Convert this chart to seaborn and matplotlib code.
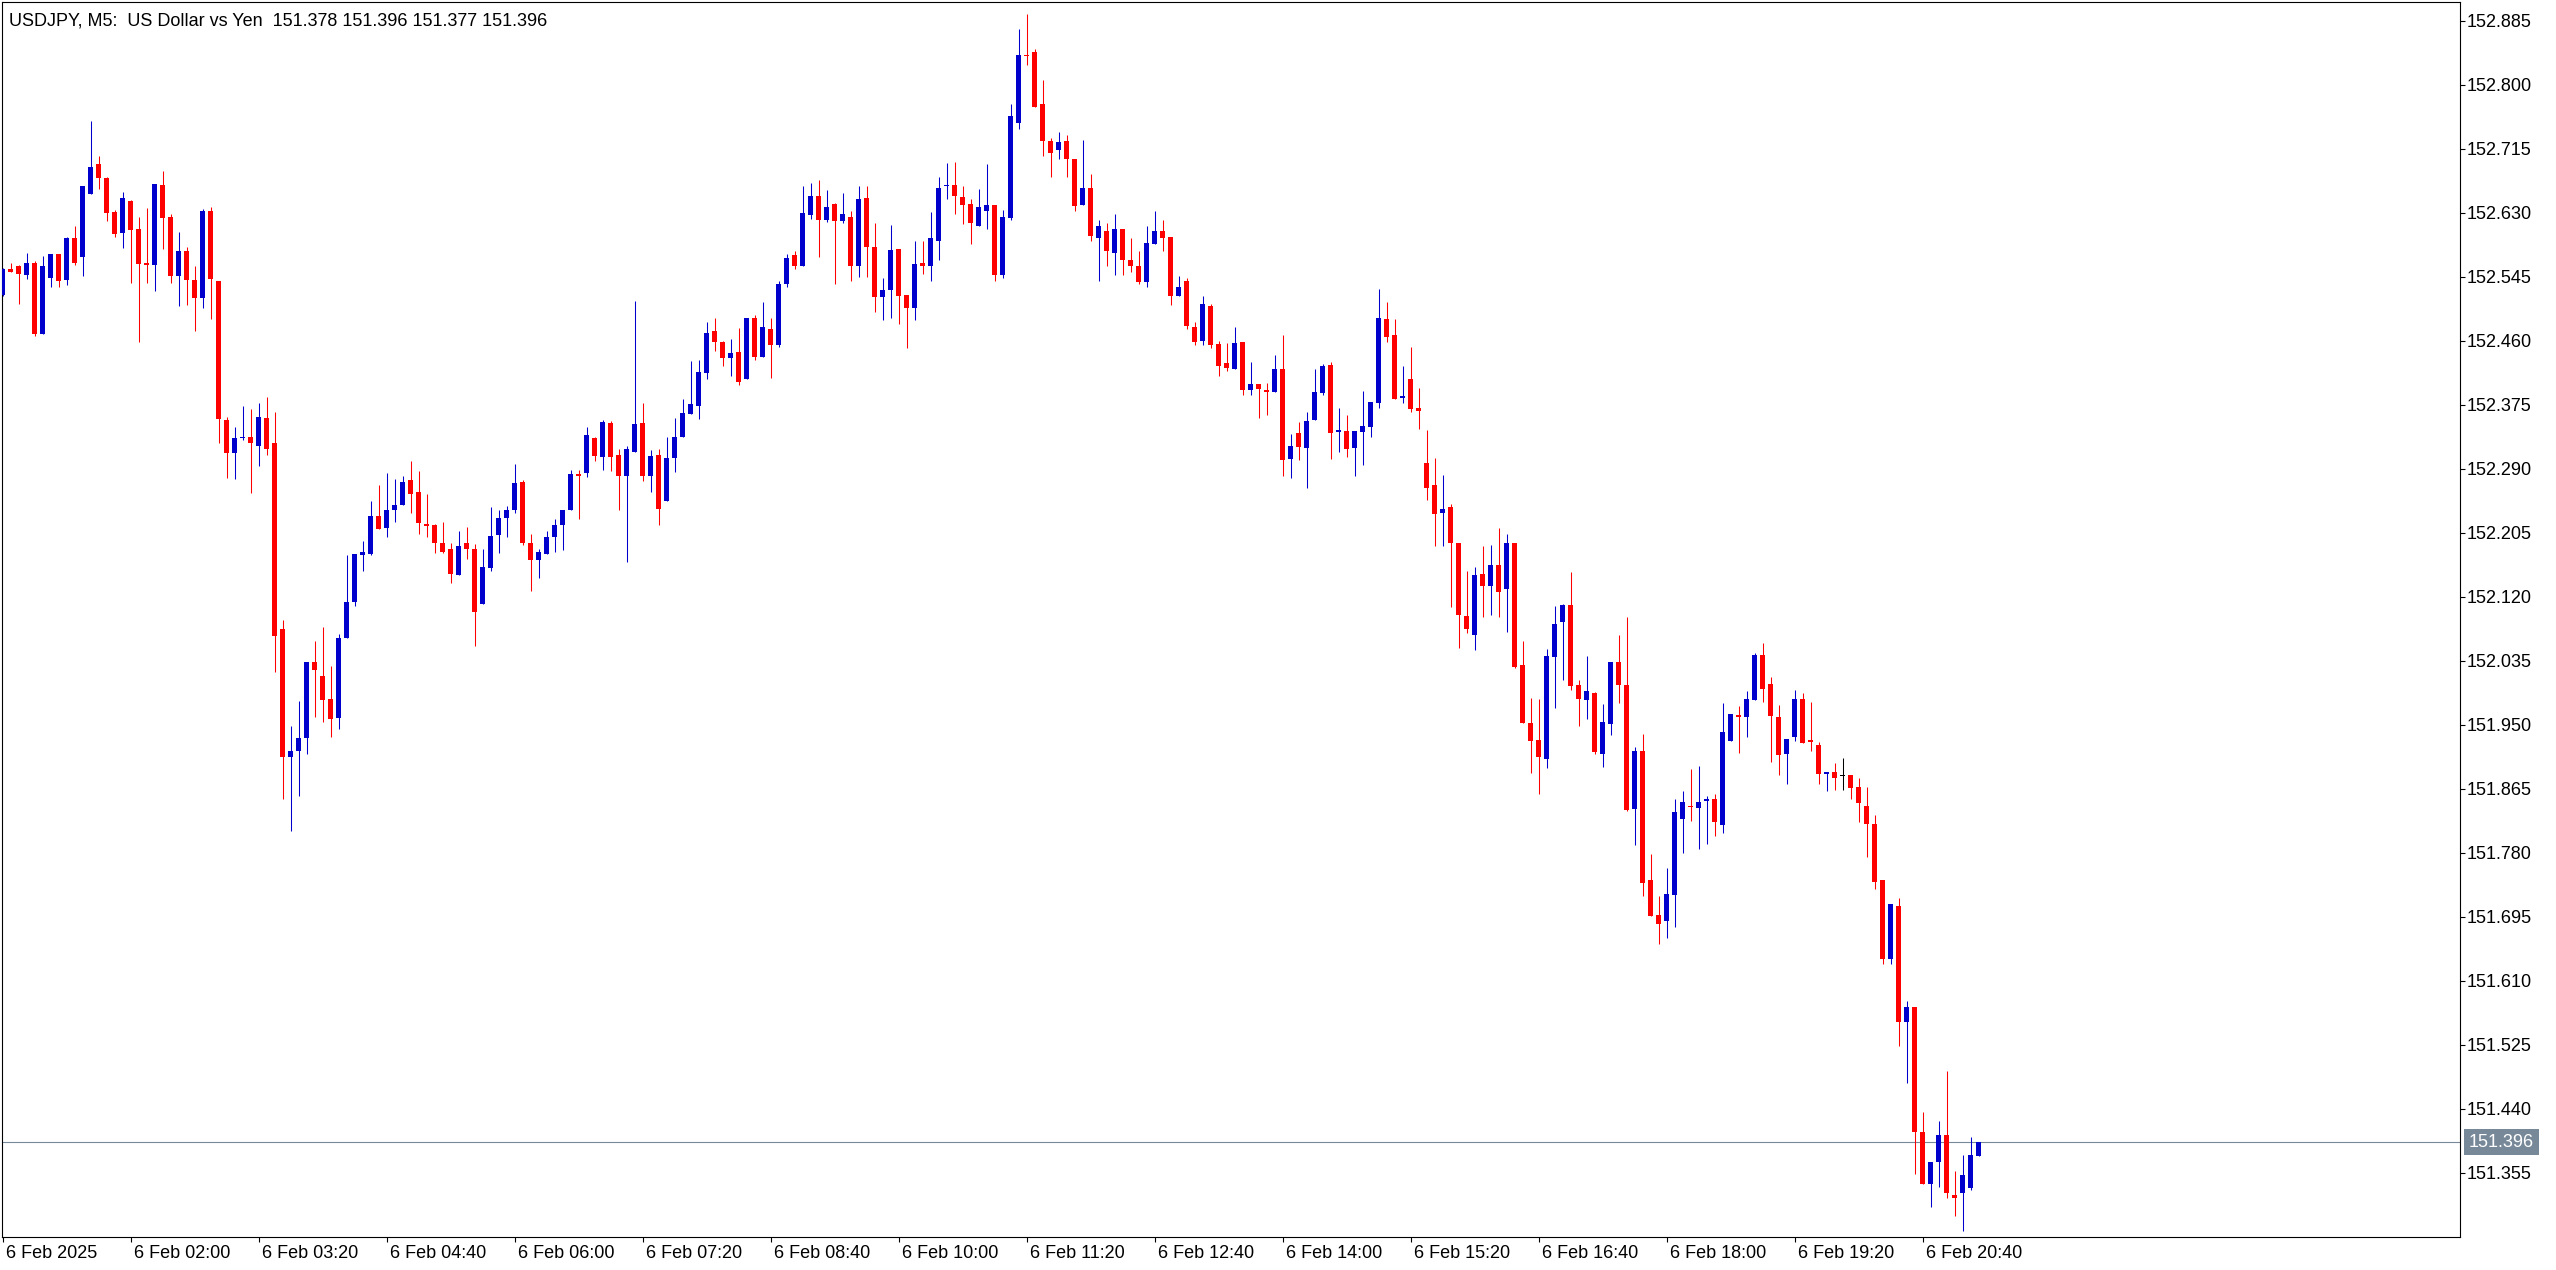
import numpy as np
import pandas as pd
import matplotlib
matplotlib.use('Agg')
import matplotlib.pyplot as plt
import matplotlib.transforms as mtransforms
import seaborn as sns

# USDJPY M5 candles (bar 0 = 00:40)
opens = [152.521, 152.556, 152.560, 152.547, 152.564, 152.469, 152.544, 152.575, 152.541, 152.597,
         152.572, 152.655, 152.695, 152.676, 152.631, 152.603, 152.646, 152.609, 152.564, 152.561,
         152.667, 152.625, 152.546, 152.579, 152.541, 152.517, 152.633, 152.540, 152.355, 152.311,
         152.331, 152.333, 152.321, 152.357, 152.324, 152.077, 151.907, 151.916, 151.933, 152.034,
         152.015, 151.985, 151.959, 152.066, 152.113, 152.175, 152.177, 152.228, 152.212, 152.236,
         152.242, 152.275, 152.259, 152.217, 152.215, 152.192, 152.184, 152.149, 152.191, 152.184,
         152.110, 152.159, 152.202, 152.225, 152.235, 152.272, 152.192, 152.169, 152.177, 152.199,
         152.215, 152.235, 152.283, 152.284, 152.331, 152.306, 152.351, 152.309, 152.280, 152.312,
         152.351, 152.280, 152.309, 152.248, 152.304, 152.333, 152.363, 152.374, 152.418, 152.473,
         152.459, 152.437, 152.445, 152.409, 152.491, 152.438, 152.476, 152.455, 152.536, 152.574,
         152.559, 152.627, 152.653, 152.621, 152.642, 152.619, 152.625, 152.559, 152.650, 152.585,
         152.518, 152.527, 152.582, 152.521, 152.503, 152.564, 152.559, 152.593, 152.665, 152.667,
         152.651, 152.642, 152.612, 152.633, 152.641, 152.547, 152.623, 152.749, 152.840, 152.843,
         152.774, 152.726, 152.713, 152.726, 152.701, 152.640, 152.663, 152.597, 152.606, 152.577,
         152.609, 152.568, 152.560, 152.538, 152.589, 152.606, 152.598, 152.520, 152.540, 152.478,
         152.460, 152.506, 152.456, 152.431, 152.423, 152.458, 152.395, 152.403, 152.395, 152.392,
         152.423, 152.303, 152.338, 152.318, 152.355, 152.391, 152.428, 152.339, 152.340, 152.318,
         152.339, 152.345, 152.378, 152.489, 152.468, 152.384, 152.409, 152.371, 152.298, 152.269,
         152.232, 152.239, 152.191, 152.094, 152.070, 152.150, 152.134, 152.162, 152.130, 152.191,
         152.029, 151.953, 151.930, 151.905, 152.040, 152.087, 152.109, 152.003, 151.983, 151.992,
         151.912, 151.951, 152.033, 152.003, 151.839, 151.915, 151.744, 151.697, 151.689, 151.724,
         151.825, 151.843, 151.840, 151.849, 151.851, 151.817, 151.928, 151.963, 151.961, 151.983,
         152.043, 152.005, 151.960, 151.912, 151.934, 151.984, 151.930, 151.924, 151.885, 151.888,
         151.882, 151.883, 151.868, 151.843, 151.819, 151.744, 151.639, 151.710, 151.555, 151.575,
         151.410, 151.341, 151.369, 151.405, 151.326, 151.329, 151.335, 151.378]
highs = [152.557, 152.564, 152.561, 152.577, 152.566, 152.573, 152.575, 152.575, 152.598, 152.613,
         152.666, 152.752, 152.706, 152.678, 152.634, 152.658, 152.647, 152.625, 152.637, 152.668,
         152.686, 152.629, 152.605, 152.585, 152.560, 152.635, 152.638, 152.540, 152.359, 152.346,
         152.373, 152.369, 152.378, 152.385, 152.366, 152.090, 151.948, 151.982, 152.034, 152.062,
         152.080, 152.028, 152.071, 152.175, 152.177, 152.194, 152.247, 152.268, 152.284, 152.276,
         152.281, 152.301, 152.287, 152.257, 152.217, 152.219, 152.191, 152.208, 152.213, 152.190,
         152.184, 152.239, 152.236, 152.241, 152.297, 152.275, 152.204, 152.183, 152.207, 152.224,
         152.236, 152.289, 152.289, 152.345, 152.333, 152.355, 152.354, 152.317, 152.321, 152.513,
         152.378, 152.315, 152.317, 152.333, 152.358, 152.383, 152.433, 152.435, 152.485, 152.491,
         152.460, 152.463, 152.477, 152.491, 152.495, 152.512, 152.491, 152.540, 152.576, 152.580,
         152.665, 152.670, 152.673, 152.661, 152.643, 152.657, 152.633, 152.666, 152.665, 152.617,
         152.544, 152.614, 152.582, 152.521, 152.593, 152.593, 152.631, 152.678, 152.696, 152.698,
         152.666, 152.649, 152.662, 152.695, 152.641, 152.634, 152.774, 152.874, 152.894, 152.848,
         152.807, 152.730, 152.738, 152.734, 152.702, 152.727, 152.681, 152.620, 152.617, 152.629,
         152.609, 152.597, 152.580, 152.613, 152.633, 152.621, 152.598, 152.546, 152.543, 152.485,
         152.519, 152.509, 152.460, 152.457, 152.478, 152.458, 152.432, 152.403, 152.404, 152.441,
         152.468, 152.336, 152.352, 152.365, 152.423, 152.429, 152.432, 152.371, 152.361, 152.340,
         152.393, 152.379, 152.529, 152.511, 152.489, 152.427, 152.452, 152.397, 152.341, 152.304,
         152.282, 152.243, 152.191, 152.154, 152.160, 152.188, 152.189, 152.211, 152.203, 152.191,
         152.061, 151.986, 151.984, 152.051, 152.108, 152.110, 152.153, 152.010, 152.042, 151.994,
         151.978, 152.033, 152.069, 152.093, 151.921, 151.938, 151.778, 151.723, 151.760, 151.851,
         151.862, 151.891, 151.895, 151.855, 151.858, 151.979, 151.964, 151.975, 151.995, 152.045,
         152.059, 152.013, 151.976, 151.931, 151.996, 151.992, 151.981, 151.927, 151.888, 151.900,
         151.906, 151.883, 151.879, 151.867, 151.831, 151.744, 151.712, 151.720, 151.584, 151.575,
         151.436, 151.369, 151.424, 151.491, 151.357, 151.379, 151.403, 151.396]
lows = [152.520, 152.551, 152.509, 152.542, 152.467, 152.469, 152.532, 152.532, 152.534, 152.561,
        152.546, 152.655, 152.662, 152.619, 152.598, 152.583, 152.537, 152.459, 152.537, 152.526,
        152.582, 152.537, 152.506, 152.508, 152.473, 152.504, 152.489, 152.325, 152.278, 152.276,
        152.329, 152.258, 152.294, 152.308, 152.020, 151.852, 151.809, 151.856, 151.912, 151.961,
        151.954, 151.934, 151.945, 152.065, 152.108, 152.154, 152.175, 152.210, 152.200, 152.219,
        152.242, 152.231, 152.203, 152.199, 152.178, 152.178, 152.138, 152.149, 152.171, 152.055,
        152.110, 152.155, 152.178, 152.199, 152.231, 152.189, 152.128, 152.145, 152.177, 152.179,
        152.182, 152.235, 152.223, 152.279, 152.300, 152.289, 152.287, 152.236, 152.166, 152.312,
        152.274, 152.259, 152.216, 152.248, 152.286, 152.333, 152.363, 152.356, 152.409, 152.446,
        152.426, 152.413, 152.402, 152.409, 152.434, 152.438, 152.411, 152.452, 152.531, 152.556,
        152.559, 152.622, 152.571, 152.618, 152.536, 152.616, 152.539, 152.545, 152.545, 152.499,
        152.488, 152.490, 152.482, 152.450, 152.488, 152.549, 152.539, 152.567, 152.649, 152.629,
        152.615, 152.588, 152.612, 152.609, 152.539, 152.543, 152.621, 152.741, 152.826, 152.771,
        152.705, 152.677, 152.702, 152.678, 152.632, 152.640, 152.592, 152.540, 152.559, 152.548,
        152.547, 152.551, 152.535, 152.531, 152.589, 152.579, 152.507, 152.519, 152.476, 152.455,
        152.454, 152.450, 152.414, 152.420, 152.423, 152.388, 152.388, 152.357, 152.361, 152.392,
        152.280, 152.278, 152.302, 152.265, 152.355, 152.388, 152.303, 152.313, 152.306, 152.280,
        152.295, 152.333, 152.371, 152.459, 152.383, 152.377, 152.365, 152.343, 152.249, 152.187,
        152.188, 152.106, 152.052, 152.072, 152.050, 152.093, 152.096, 152.093, 152.074, 152.025,
        151.952, 151.886, 151.858, 151.893, 151.973, 152.009, 151.996, 151.949, 151.958, 151.912,
        151.894, 151.936, 151.979, 151.836, 151.791, 151.723, 151.696, 151.659, 151.667, 151.682,
        151.780, 151.823, 151.785, 151.792, 151.803, 151.807, 151.928, 151.913, 151.934, 151.983,
        151.981, 151.901, 151.884, 151.872, 151.928, 151.926, 151.915, 151.871, 151.862, 151.863,
        151.863, 151.852, 151.821, 151.775, 151.732, 151.633, 151.632, 151.524, 151.475, 151.353,
        151.341, 151.310, 151.337, 151.322, 151.298, 151.278, 151.333, 151.377]
closes = [152.556, 152.551, 152.549, 152.564, 152.469, 152.560, 152.575, 152.540, 152.597, 152.564,
          152.666, 152.691, 152.676, 152.630, 152.602, 152.650, 152.607, 152.562, 152.561, 152.668,
          152.623, 152.546, 152.579, 152.541, 152.517, 152.633, 152.542, 152.356, 152.311, 152.331,
          152.333, 152.325, 152.359, 152.316, 152.068, 151.907, 151.916, 151.933, 152.034, 152.023,
          151.983, 151.958, 152.065, 152.113, 152.177, 152.179, 152.227, 152.210, 152.235, 152.242,
          152.273, 152.256, 152.218, 152.214, 152.191, 152.179, 152.150, 152.188, 152.183, 152.100,
          152.160, 152.201, 152.225, 152.236, 152.271, 152.191, 152.169, 152.179, 152.200, 152.216,
          152.236, 152.283, 152.280, 152.335, 152.307, 152.352, 152.306, 152.281, 152.317, 152.350,
          152.281, 152.307, 152.237, 152.305, 152.333, 152.364, 152.376, 152.419, 152.471, 152.458,
          152.437, 152.444, 152.406, 152.491, 152.438, 152.479, 152.454, 152.536, 152.570, 152.560,
          152.630, 152.653, 152.620, 152.638, 152.619, 152.629, 152.559, 152.649, 152.584, 152.518,
          152.528, 152.581, 152.520, 152.503, 152.562, 152.560, 152.596, 152.663, 152.667, 152.652,
          152.641, 152.616, 152.638, 152.641, 152.548, 152.625, 152.759, 152.840, 152.838, 152.771,
          152.725, 152.710, 152.724, 152.701, 152.639, 152.663, 152.599, 152.613, 152.579, 152.608,
          152.567, 152.559, 152.538, 152.590, 152.606, 152.596, 152.519, 152.531, 152.480, 152.459,
          152.509, 152.454, 152.427, 152.424, 152.457, 152.395, 152.403, 152.396, 152.392, 152.423,
          152.302, 152.320, 152.319, 152.353, 152.392, 152.427, 152.337, 152.342, 152.317, 152.340,
          152.347, 152.379, 152.490, 152.465, 152.383, 152.387, 152.369, 152.367, 152.265, 152.230,
          152.237, 152.192, 152.096, 152.078, 152.149, 152.134, 152.162, 152.126, 152.191, 152.027,
          151.952, 151.929, 151.907, 152.041, 152.084, 152.109, 152.002, 151.985, 151.995, 151.914,
          151.954, 152.033, 152.003, 151.837, 151.915, 151.740, 151.696, 151.686, 151.725, 151.834,
          151.847, 151.841, 151.847, 151.851, 151.821, 151.940, 151.964, 151.961, 151.984, 152.043,
          151.998, 151.962, 151.910, 151.931, 151.984, 151.926, 151.927, 151.885, 151.888, 151.880,
          151.882, 151.866, 151.846, 151.818, 151.742, 151.639, 151.712, 151.555, 151.575, 151.409,
          151.341, 151.369, 151.405, 151.329, 151.322, 151.352, 151.379, 151.396]

price_ticks = [152.885, 152.800, 152.715, 152.630, 152.545, 152.460, 152.375, 152.290, 152.205,
               152.120, 152.035, 151.950, 151.865, 151.780, 151.695, 151.610, 151.525, 151.440, 151.355]
time_ticks = [0, 16, 32, 48, 64, 80, 96, 112, 128, 144, 160, 176, 192, 208, 224, 240]
time_labels = ['6 Feb 2025', '6 Feb 02:00', '6 Feb 03:20', '6 Feb 04:40', '6 Feb 06:00', '6 Feb 07:20',
               '6 Feb 08:40', '6 Feb 10:00', '6 Feb 11:20', '6 Feb 12:40', '6 Feb 14:00', '6 Feb 15:20',
               '6 Feb 16:40', '6 Feb 18:00', '6 Feb 19:20', '6 Feb 20:40']
last_price = 151.396
header = 'USDJPY, M5:  US Dollar vs Yen  151.378 151.396 151.377 151.396'

sns.set_theme(style='white')
plt.rcParams['font.family'] = ['Liberation Sans', 'DejaVu Sans']

df = pd.DataFrame({'open': opens, 'high': highs, 'low': lows, 'close': closes})
df['bar'] = np.arange(len(df))
df['colour'] = np.where(df['close'] > df['open'], '#0000CD',
                        np.where(df['close'] < df['open'], '#FF0000', '#000000'))
body_low = df[['open', 'close']].min(axis=1)
body_h = (df['close'] - df['open']).abs().clip(lower=0.0015)

W, H = 2556, 1270
fig = plt.figure(figsize=(W / 100, H / 100), dpi=100)
ax = fig.add_axes([2 / W, 1 - 1237 / H, 2458 / W, 1235 / H])
ax.set_facecolor('white')

# wicks then bodies
ax.vlines(df['bar'], df['low'], df['high'], colors=df['colour'], linewidth=0.75, zorder=2)
ax.bar(df['bar'], body_h, bottom=body_low, width=0.625, color=df['colour'], linewidth=0, zorder=3)

ax.axhline(last_price, color='#778899', linewidth=0.8, zorder=1)

ax.set_xlim(-0.0875, 307.16)
ax.set_ylim(151.270, 152.910)

for s in ax.spines.values():
    s.set_color('black')
    s.set_linewidth(0.8)

ax.yaxis.tick_right()
ax.set_yticks(price_ticks)
ax.set_yticklabels([f'{p:.3f}' for p in price_ticks])
ax.tick_params(axis='y', right=True, left=False, direction='out', length=3.6, width=0.8,
               pad=1, labelsize=13, color='black', labelcolor='black')

ax.set_xticks(time_ticks)
ax.set_xticklabels(time_labels, ha='left')
ax.tick_params(axis='x', bottom=True, direction='out', length=3.6, width=0.8,
               pad=2, labelsize=13, color='black', labelcolor='black')
offset = mtransforms.ScaledTranslation(3 / 100, 0, fig.dpi_scale_trans)
for lbl in ax.get_xticklabels():
    lbl.set_transform(lbl.get_transform() + offset)

ax.annotate(f'{last_price:.3f}', xy=(1, last_price), xycoords=('axes fraction', 'data'),
            xytext=(9, 0), textcoords='offset pixels', ha='left', va='center',
            fontsize=13, color='white',
            bbox=dict(boxstyle='square,pad=0.25', fc='#778899', ec='none'))

fig.text(9 / W, 1 - 26 / H, header, fontsize=13, color='black', ha='left', va='baseline')

fig.savefig('out.png', dpi=100)
